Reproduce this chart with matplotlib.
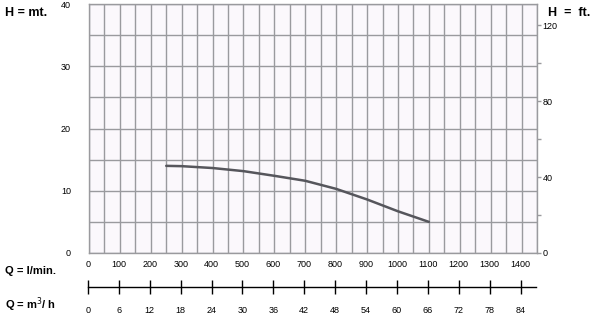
import matplotlib
matplotlib.use('Agg')
import matplotlib.pyplot as plt
import numpy as np

# pump curve
flow_lmin = [250, 300, 400, 500, 600, 700, 800, 900, 1000, 1100]
head_m = [14.0, 13.95, 13.65, 13.15, 12.4, 11.6, 10.3, 8.6, 6.7, 5.0]

q_ticks = [0, 100, 200, 300, 400, 500, 600, 700, 800, 900, 1000, 1100, 1200, 1300, 1400]
m3h_ticks = [0, 6, 12, 18, 24, 30, 36, 42, 48, 54, 60, 66, 72, 78, 84]
h_ticks = [0, 10, 20, 30, 40]
ft_ticks = [0, 20, 40, 60, 80, 100, 120]
ft_labels = ['0', '', '40', '', '80', '', '120']

plt.rcParams['font.family'] = ['Liberation Sans', 'DejaVu Sans']
W, H = 600, 323
grid_col = '#9a9a9e'

fig = plt.figure(figsize=(6, 3.23), dpi=100)
left, right, top, bottom = 89 / W, 537 / W, 1 - 4 / H, 1 - 253 / H
ax = fig.add_axes([left, bottom, right - left, top - bottom])
ax.set_facecolor('#fbf8fc')
ax.set_xlim(0, 1450)
ax.set_ylim(0, 40)

# grid: 50 l/min by 5 m
ax.set_xticks(np.arange(0, 1451, 50))
ax.set_yticks(np.arange(0, 41, 5), minor=True)
ax.set_yticks(h_ticks)
ax.grid(True, which='both', color=grid_col, lw=1.0)
ax.tick_params(axis='x', length=0, labelbottom=False)
ax.tick_params(axis='y', which='both', length=0, pad=13, labelsize=6.5)
for s in ax.spines.values():
    s.set_color(grid_col)
    s.set_linewidth(1.0)

ax.plot(flow_lmin, head_m, color='#56565c', lw=1.8, solid_capstyle='round')

# feet scale on the right
axr = ax.twinx()
axr.set_ylim(0, 40 / 0.3048)
axr.set_yticks(ft_ticks)
axr.set_yticklabels(ft_labels)
axr.tick_params(axis='y', direction='out', length=3, width=1, color=grid_col,
                pad=1, labelsize=6.5)
for s in axr.spines.values():
    s.set_visible(False)

# flow scale strip below the chart
axq = fig.add_axes([left - 1 / W, 1 - 287 / H, right - left, 0.0001])
axq.set_xlim(0, 1450)
axq.set_facecolor('none')
for k in ['top', 'left', 'right']:
    axq.spines[k].set_visible(False)
axq.spines['bottom'].set_color('black')
axq.spines['bottom'].set_linewidth(1.0)
axq.set_yticks([])
axq.set_xticks(q_ticks)
axq.tick_params(axis='x', direction='inout', length=10, width=1, color='black',
                bottom=True, top=False, labelbottom=False, labeltop=True,
                pad=8, labelsize=6.5)

sec = axq.secondary_xaxis('bottom', functions=(lambda q: q * 0.06, lambda m: m / 0.06))
sec.set_xticks(m3h_ticks)
sec.tick_params(axis='x', length=0, pad=14, labelsize=6.5)
sec.spines['bottom'].set_visible(False)

fig.text(5 / W, 1 - 13 / H, 'H = mt.', fontsize=9, fontweight='bold', va='center')
fig.text(548 / W, 1 - 13 / H, 'H  =  ft.', fontsize=9, fontweight='bold', va='center')
fig.text(5 / W, 1 - 271 / H, 'Q = l/min.', fontsize=8, fontweight='bold', va='center')
fig.text(5 / W, 1 - 305 / H, 'Q = m$^3$/ h', fontsize=8, fontweight='bold', va='center')

fig.savefig('out.png', dpi=100)
